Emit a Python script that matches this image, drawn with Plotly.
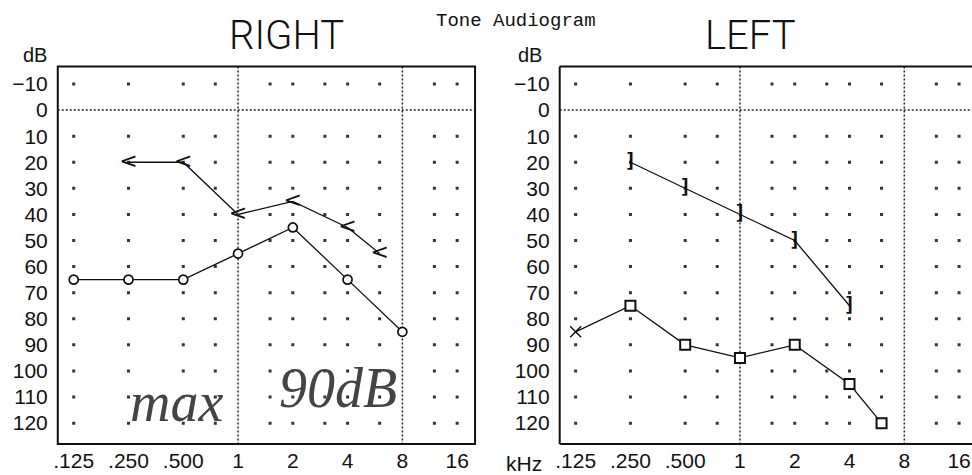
import plotly.graph_objects as go

W, H = 972, 475

# ---- data ----
freq_ticks = [0.125, 0.25, 0.5, 1, 2, 4, 8, 16]
freq_tick_labels = [".125", ".250", ".500", "1", "2", "4", "8", "16"]
db_ticks = [-10, 0, 10, 20, 30, 40, 50, 60, 70, 80, 90, 100, 110, 120]
grid_freqs = [0.125, 0.25, 0.5, 0.75, 1.5, 2, 3, 4, 6, 12, 16]
grid_dbs = [-10, 10, 20, 30, 40, 50, 60, 70, 80, 90, 100, 110, 120]
dotted_freqs = [1, 8]

right_air_f = [0.125, 0.25, 0.5, 1, 2, 4, 8]
right_air_db = [65, 65, 65, 55, 45, 65, 85]
right_bone_f = [0.25, 0.5, 1, 2, 4, 6]
right_bone_db = [20, 20, 40, 35, 45, 55]

left_x_f = [0.125]
left_x_db = [85]
left_air_f = [0.25, 0.5, 1, 2, 4, 6]
left_air_db = [75, 90, 95, 90, 105, 120]
left_bone_f = [0.25, 0.5, 1, 2, 4]
left_bone_db = [20, 30, 40, 50, 75]

# ---- geometry ----
Y_BOT, Y_TOP = 128.0, -16.7
XR_R = [-0.9907, 1.3026]
XR_L = [-0.9907, 1.2752]
ydom = [1 - 444 / H, 1 - 66.5 / H]
xdom_r = [54 / W, 473 / W]
xdom_l = [558 / W, 1.0]

TICKFONT = dict(family="Liberation Sans, Arial, sans-serif", size=21, color="#111")
XTICKFONT = dict(family="Liberation Sans, Arial, sans-serif", size=21, color="#111")
INK = "#111"

fig = go.Figure()

def add_panel(xa, ya):
    gx = [f for f in grid_freqs for _ in grid_dbs]
    gy = [d for _ in grid_freqs for d in grid_dbs]
    fig.add_trace(go.Scatter(x=gx, y=gy, xaxis=xa, yaxis=ya, mode="markers",
                             marker=dict(size=3, color="#333", symbol="square"),
                             hoverinfo="skip", showlegend=False))
    vx, vy = [], []
    for f in dotted_freqs:
        vx += [f, f, None]
        vy += [Y_TOP, Y_BOT, None]
    fig.add_trace(go.Scatter(x=vx, y=vy, xaxis=xa, yaxis=ya, mode="lines",
                             line=dict(color="#222", width=1.5, dash="2px,2px"),
                             hoverinfo="skip", showlegend=False))

add_panel("x", "y")
add_panel("x2", "y2")

# right ear
fig.add_trace(go.Scatter(x=right_bone_f, y=right_bone_db, xaxis="x", yaxis="y",
                         mode="lines+text", text=["<"] * len(right_bone_f),
                         textposition="middle center",
                         textfont=dict(family="DejaVu Sans", size=22, color=INK),
                         line=dict(color=INK, width=1.3), showlegend=False))
fig.add_trace(go.Scatter(x=right_air_f, y=right_air_db, xaxis="x", yaxis="y",
                         mode="lines+markers",
                         marker=dict(symbol="circle", size=9, color="white",
                                     line=dict(color=INK, width=1.7)),
                         line=dict(color=INK, width=1.3), showlegend=False))

# left ear
fig.add_trace(go.Scatter(x=left_bone_f, y=left_bone_db, xaxis="x2", yaxis="y2",
                         mode="lines+text", text=["]"] * len(left_bone_f),
                         textposition="middle center",
                         textfont=dict(family="DejaVu Sans Mono", size=20, color=INK, weight="bold"),
                         line=dict(color=INK, width=1.3), showlegend=False))
fig.add_trace(go.Scatter(x=left_x_f + left_air_f, y=left_x_db + left_air_db,
                         xaxis="x2", yaxis="y2", mode="lines",
                         line=dict(color=INK, width=1.3), showlegend=False))
fig.add_trace(go.Scatter(x=left_air_f, y=left_air_db, xaxis="x2", yaxis="y2",
                         mode="markers",
                         marker=dict(symbol="square", size=10, color="white",
                                     line=dict(color=INK, width=2)),
                         showlegend=False))
fig.add_trace(go.Scatter(x=left_x_f, y=left_x_db, xaxis="x2", yaxis="y2",
                         mode="markers",
                         marker=dict(symbol="x-thin", size=11,
                                     line=dict(color=INK, width=1.5)),
                         showlegend=False))

xcommon = dict(type="log", tickvals=freq_ticks, ticktext=freq_tick_labels,
               showgrid=False, zeroline=False, showline=False, ticks="",
               tickfont=XTICKFONT, ticklabelstandoff=2, fixedrange=True)
ycommon = dict(tickvals=db_ticks, range=[Y_BOT, Y_TOP], showgrid=False,
               zeroline=False, showline=False, ticks="", tickfont=TICKFONT,
               ticklabelstandoff=9, domain=ydom, fixedrange=True)

fig.update_layout(
    width=W, height=H,
    margin=dict(l=0, r=0, t=0, b=0),
    paper_bgcolor="white", plot_bgcolor="white",
    hovermode=False,
    xaxis=dict(xcommon, domain=xdom_r, range=XR_R, anchor="y"),
    yaxis=dict(ycommon, anchor="x"),
    xaxis2=dict(xcommon, domain=xdom_l, range=XR_L, anchor="y2"),
    yaxis2=dict(ycommon, anchor="x2"),
)

# frames and 0 dB dotted line
fig.add_shape(type="rect", xref="x domain", yref="y domain", x0=0, x1=1, y0=0, y1=1,
              line=dict(color=INK, width=2))
for (x0, y0, x1, y1) in [(0, 1, 1, 1), (0, 0, 0, 1), (0, 0, 1, 0)]:
    fig.add_shape(type="line", xref="x2 domain", yref="y2 domain",
                  x0=x0, y0=y0, x1=x1, y1=y1, line=dict(color=INK, width=2))
fig.add_shape(type="line", xref="x domain", yref="y", x0=0, x1=1, y0=0, y1=0,
              line=dict(color="#222", width=1.5, dash="2px,2px"))
fig.add_shape(type="line", xref="x2 domain", yref="y2", x0=0, x1=1, y0=0, y1=0,
              line=dict(color="#222", width=1.5, dash="2px,2px"))

def ann(text, px, py, font, **kw):
    fig.add_annotation(text=text, x=px / W, y=1 - py / H, xref="paper", yref="paper",
                       showarrow=False, font=font, xanchor="center", yanchor="middle", **kw)

ann("Tone Audiogram", 514, 21, dict(family="Liberation Mono, DejaVu Sans Mono", size=19, color=INK))
TITLEFONT = dict(family="Roboto", size=40, color=INK, weight=300)
ann("RIGHT", 284, 35, TITLEFONT)
ann("LEFT", 750, 35, TITLEFONT)
ann("dB", 31, 55, dict(family="Liberation Sans", size=20, color=INK))
ann("dB", 528, 55, dict(family="Liberation Sans", size=20, color=INK))
ann("kHz", 522, 463, XTICKFONT)
HAND = dict(family="Liberation Serif, DejaVu Serif", size=56, color="#444", style="italic")
ann("max", 173, 402, HAND)
ann("90dB", 335, 388, HAND)

fig.write_html("out.html", config={"displayModeBar": False},
               post_script="document.body.style.margin='0px';document.body.style.overflow='hidden';")
